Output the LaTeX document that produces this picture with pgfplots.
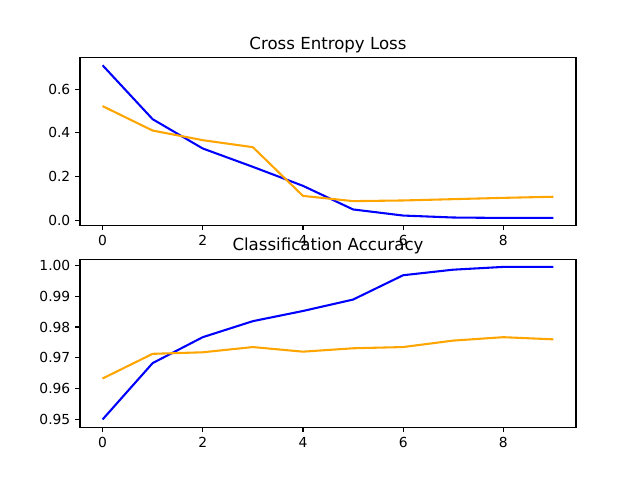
\documentclass[border=0pt]{standalone}
\usepackage{fontspec}
\setmainfont{DejaVu Sans}
\usepackage{pgfplots}
\pgfplotsset{compat=1.18}

\definecolor{mplorange}{RGB}{255,165,0}
\definecolor{mplblue}{RGB}{0,0,255}

\pgfplotsset{
  mplstyle/.style={
    scale only axis,
    width=4.96in, height=1.68in,
    anchor=south west,
    xmin=-0.45, xmax=9.45,
    xtick={0,2,4,6,8},
    axis line style={line width=0.8pt},
    tick align=outside,
    xtick pos=bottom, ytick pos=left,
    major tick length=3.5pt,
    every tick/.style={black, line width=0.8pt},
    tick label style={font=\fontsize{10}{12}\selectfont},
    /pgf/number format/assume math mode=true,
    every axis title/.style={at={(0.5,1)}, anchor=base, yshift=6pt, inner sep=0pt,
      font=\fontsize{12}{14}\selectfont},
    every axis plot/.append style={line width=1.5pt, no markers, line join=round},
  }
}

\begin{document}
\begin{tikzpicture}
\useasboundingbox (0,0) rectangle (6.4in,4.8in);

% loss
\begin{axis}[mplstyle, at={(0.8in,2.544in)},
  ymin=-0.025, ymax=0.744,
  ytick={0,0.2,0.4,0.6},
  yticklabel style={/pgf/number format/.cd, fixed, fixed zerofill, precision=1},
  title={Cross Entropy Loss}]
\addplot[mplblue] coordinates {
(0,0.709) (1,0.462) (2,0.328) (3,0.244) (4,0.157)
(5,0.049) (6,0.021) (7,0.012) (8,0.010) (9,0.010)};
\addplot[mplorange] coordinates {
(0,0.522) (1,0.410) (2,0.366) (3,0.334) (4,0.111)
(5,0.087) (6,0.090) (7,0.096) (8,0.102) (9,0.107)};
\end{axis}

% accuracy
\begin{axis}[mplstyle, at={(0.8in,0.528in)},
  ymin=0.9475, ymax=1.0020,
  ytick={0.95,0.96,0.97,0.98,0.99,1.00},
  yticklabel style={/pgf/number format/.cd, fixed, fixed zerofill, precision=2},
  title={Classification Accuracy}]
\addplot[mplblue] coordinates {
(0,0.9500) (1,0.9683) (2,0.9767) (3,0.9819) (4,0.9852)
(5,0.9889) (6,0.9968) (7,0.9986) (8,0.9995) (9,0.9995)};
\addplot[mplorange] coordinates {
(0,0.9633) (1,0.9713) (2,0.9718) (3,0.9735) (4,0.9720)
(5,0.9731) (6,0.9735) (7,0.9756) (8,0.9767) (9,0.9760)};
\end{axis}
\end{tikzpicture}
\end{document}
